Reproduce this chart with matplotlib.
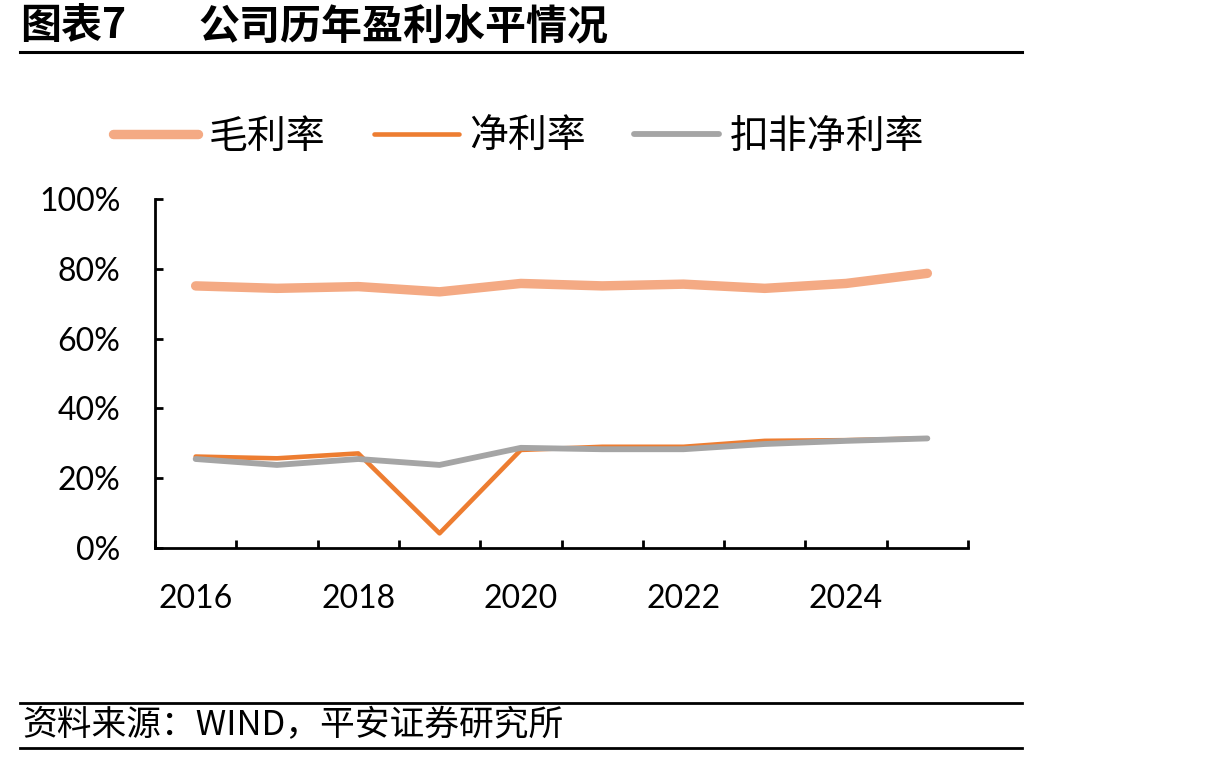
import numpy as np
import matplotlib
matplotlib.use("Agg")
import matplotlib.pyplot as plt
from matplotlib.lines import Line2D

plt.rcParams['font.family'] = ['Lato', 'Noto Sans CJK SC', 'DejaVu Sans']

years = ['2016', '2017', '2018', '2019', '2020', '2021', '2022', '2023', '2024', '2025']
gross_margin = [75.1, 74.4, 74.9, 73.4, 75.8, 75.1, 75.6, 74.4, 75.8, 78.7]
net_margin = [26.2, 25.7, 27.1, 4.2, 28.1, 29.0, 29.0, 30.7, 30.9, 31.4]
deducted_net_margin = [25.5, 23.8, 25.5, 23.8, 28.7, 28.3, 28.3, 29.8, 30.7, 31.4]
series_names = ['毛利率', '净利率', '扣非净利率']
y_ticks = [0, 20, 40, 60, 80, 100]

W, H = 1220, 759
fig = plt.figure(figsize=(W / 100, H / 100), dpi=100)
ax = fig.add_axes([155 / W, 1 - 548 / H, (968 - 155) / W, (548 - 199) / H])

x = np.arange(len(years))
ax.plot(x, gross_margin, color='#F4AA84', lw=6.8, solid_capstyle='round', solid_joinstyle='round', label=series_names[0], zorder=3)
ax.plot(x, net_margin, color='#ED7D31', lw=3.3, solid_capstyle='round', solid_joinstyle='round', label=series_names[1], zorder=3)
ax.plot(x, deducted_net_margin, color='#A5A5A5', lw=4.2, solid_capstyle='round', solid_joinstyle='round', label=series_names[2], zorder=4)

ax.set_xlim(-0.5, len(years) - 0.5)
ax.set_ylim(0, 100)

# y axis
ax.set_yticks(y_ticks)
ax.set_yticklabels([f'{v}%' for v in y_ticks])
ax.tick_params(axis='y', direction='in', length=6, width=2, pad=25, labelsize=23)

# x axis: tick marks at category boundaries, labels at every other category
ax.set_xticks(np.arange(-0.5, len(years), 1.0))
ax.set_xticklabels([])
ax.tick_params(axis='x', which='major', direction='in', length=6, width=2)
ax.set_xticks(x[::2], minor=True)
ax.set_xticklabels([years[i] for i in x[::2]], minor=True)
ax.tick_params(axis='x', which='minor', length=0, pad=26, labelsize=23)

for s in ['top', 'right']:
    ax.spines[s].set_visible(False)
for s in ['left', 'bottom']:
    ax.spines[s].set_linewidth(2)
    ax.spines[s].set_color('black')

leg = fig.legend(loc='center left', bbox_to_anchor=(113 / W, 1 - 137 / H), ncol=3, frameon=False,
                 prop={'family': ['Noto Sans CJK SC', 'DejaVu Sans'], 'size': 28},
                 handlelength=2.19, handletextpad=0.26, columnspacing=1.25,
                 borderpad=0, borderaxespad=0)

# title
fig.text(20 / W, 1 - 26 / H, '图表7', fontsize=29.5, fontweight='bold',
         family=['Noto Sans CJK SC', 'DejaVu Sans'], va='center', ha='left')
fig.text(198 / W, 1 - 26 / H, '公司历年盈利水平情况', fontsize=29.5, fontweight='bold',
         family=['Noto Sans CJK SC', 'DejaVu Sans'], va='center', ha='left')

# source
fig.text(22 / W, 1 - 726 / H, '资料来源：WIND，平安证券研究所', fontsize=25,
         family=['Noto Sans CJK SC', 'DejaVu Sans'], va='center', ha='left')

# rules
for yy, lw in [(52, 2.2), (703, 2.0), (748, 2.0)]:
    fig.add_artist(Line2D([20 / W, 1022 / W], [1 - yy / H, 1 - yy / H], color='black', lw=lw))

fig.savefig('out.png', dpi=100)
